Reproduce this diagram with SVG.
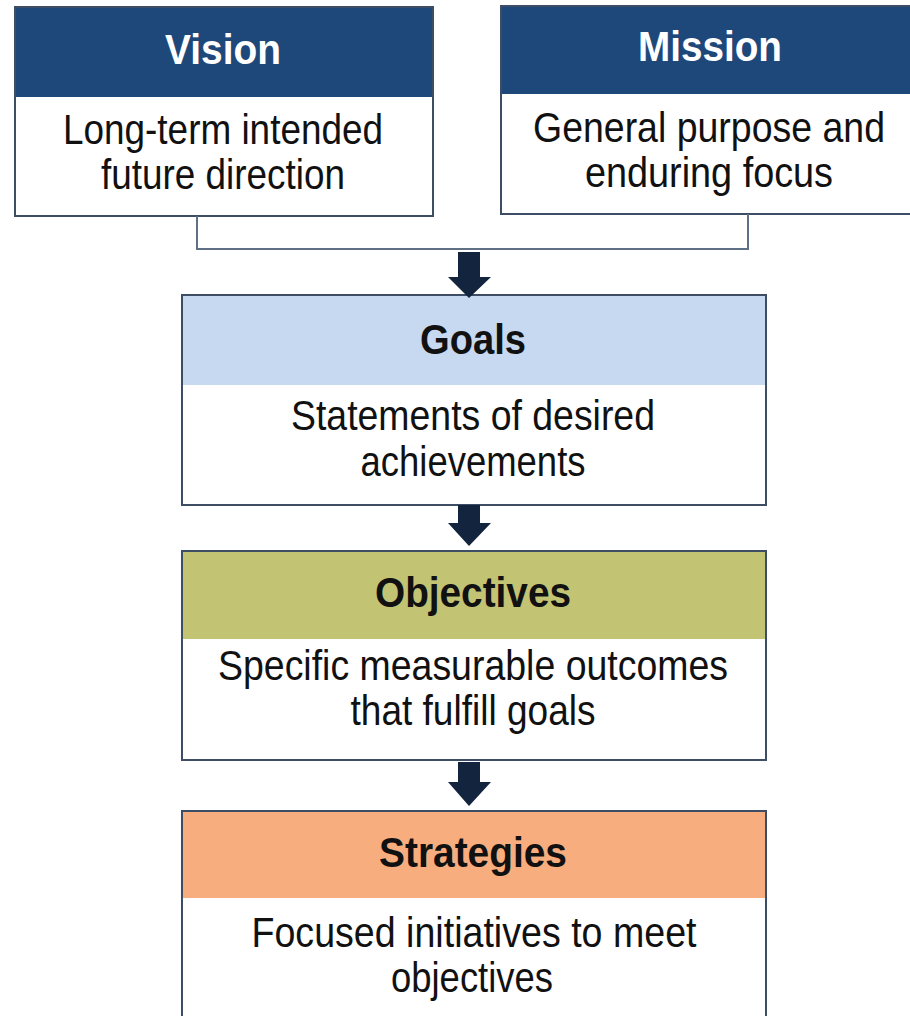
<svg xmlns="http://www.w3.org/2000/svg" width="910" height="1016" viewBox="0 0 910 1016">
  <style>
    .fill { fill: #ffffff; }
    .edge { fill: none; stroke: #3d4d66; stroke-width: 2; }
    .hdr-navy { fill: #1f487a; }
    .hdr-blue { fill: #c6d9f0; }
    .hdr-olive { fill: #c3c374; }
    .hdr-peach { fill: #f8ad7e; }
    .title { font-family: "Liberation Sans", Arial, sans-serif; font-weight: bold; font-size: 42px; text-anchor: middle; }
    .title-light { fill: #ffffff; }
    .title-dark { fill: #111111; }
    .body { font-family: "Liberation Sans", Arial, sans-serif; font-size: 42px; text-anchor: middle; fill: #111111; }
    .link { fill: none; stroke: #5f6f86; stroke-width: 2; }
    .arrow { fill: #13243f; }
  </style>

  <!-- Vision -->
  <g id="vision">
    <rect class="fill" x="15" y="7" width="418" height="209"/>
    <rect class="hdr-navy" x="16" y="8" width="416" height="89"/>
    <rect class="edge" x="15" y="7" width="418" height="209"/>
    <text class="title title-light" x="223" y="64" textLength="116" lengthAdjust="spacingAndGlyphs">Vision</text>
    <text class="body" x="223" y="144" textLength="320" lengthAdjust="spacingAndGlyphs">Long-term intended</text>
    <text class="body" x="223" y="189" textLength="244" lengthAdjust="spacingAndGlyphs">future direction</text>
  </g>

  <!-- Mission (runs off the right edge) -->
  <g id="mission">
    <rect class="fill" x="501" y="6" width="409" height="208"/>
    <rect class="hdr-navy" x="502" y="7" width="408" height="87"/>
    <path class="edge" d="M910,6 H501 V214 H910"/>
    <text class="title title-light" x="710" y="61" textLength="144" lengthAdjust="spacingAndGlyphs">Mission</text>
    <text class="body" x="709" y="142" textLength="352" lengthAdjust="spacingAndGlyphs">General purpose and</text>
    <text class="body" x="709" y="187" textLength="248" lengthAdjust="spacingAndGlyphs">enduring focus</text>
  </g>

  <!-- Goals -->
  <g id="goals">
    <rect class="fill" x="182" y="295" width="584" height="210"/>
    <rect class="hdr-blue" x="183" y="296" width="582" height="89"/>
    <rect class="edge" x="182" y="295" width="584" height="210"/>
    <text class="title title-dark" x="473" y="354" textLength="106" lengthAdjust="spacingAndGlyphs">Goals</text>
    <text class="body" x="473" y="430" textLength="364" lengthAdjust="spacingAndGlyphs">Statements  of desired</text>
    <text class="body" x="473" y="476" textLength="225" lengthAdjust="spacingAndGlyphs">achievements</text>
  </g>

  <!-- Objectives -->
  <g id="objectives">
    <rect class="fill" x="182" y="551" width="584" height="209"/>
    <rect class="hdr-olive" x="183" y="552" width="582" height="87"/>
    <rect class="edge" x="182" y="551" width="584" height="209"/>
    <text class="title title-dark" x="473" y="607" textLength="196" lengthAdjust="spacingAndGlyphs">Objectives</text>
    <text class="body" x="473" y="680" textLength="510" lengthAdjust="spacingAndGlyphs">Specific measurable outcomes</text>
    <text class="body" x="473" y="725" textLength="245" lengthAdjust="spacingAndGlyphs">that fulfill goals</text>
  </g>

  <!-- Strategies (runs off the bottom edge) -->
  <g id="strategies">
    <rect class="fill" x="182" y="811" width="584" height="205"/>
    <rect class="hdr-peach" x="183" y="812" width="582" height="86"/>
    <path class="edge" d="M182,1016 V811 H766 V1016"/>
    <text class="title title-dark" x="473" y="867" textLength="188" lengthAdjust="spacingAndGlyphs">Strategies</text>
    <text class="body" x="474" y="947" textLength="445" lengthAdjust="spacingAndGlyphs">Focused initiatives  to meet</text>
    <text class="body" x="472" y="992" textLength="162" lengthAdjust="spacingAndGlyphs">objectives</text>
  </g>

  <!-- Connectors -->
  <g id="connectors">
    <polyline class="link" points="197,216 197,249 748,249 748,214"/>
    <polygon class="arrow" points="458,252 480,252 480,277 491,277 469,298 448,277 458,277"/>
    <polygon class="arrow" points="458,505 480,505 480,523 491,523 469,546 448,523 458,523"/>
    <polygon class="arrow" points="458,762 480,762 480,782 491,782 469,806 448,782 458,782"/>
  </g>
</svg>
